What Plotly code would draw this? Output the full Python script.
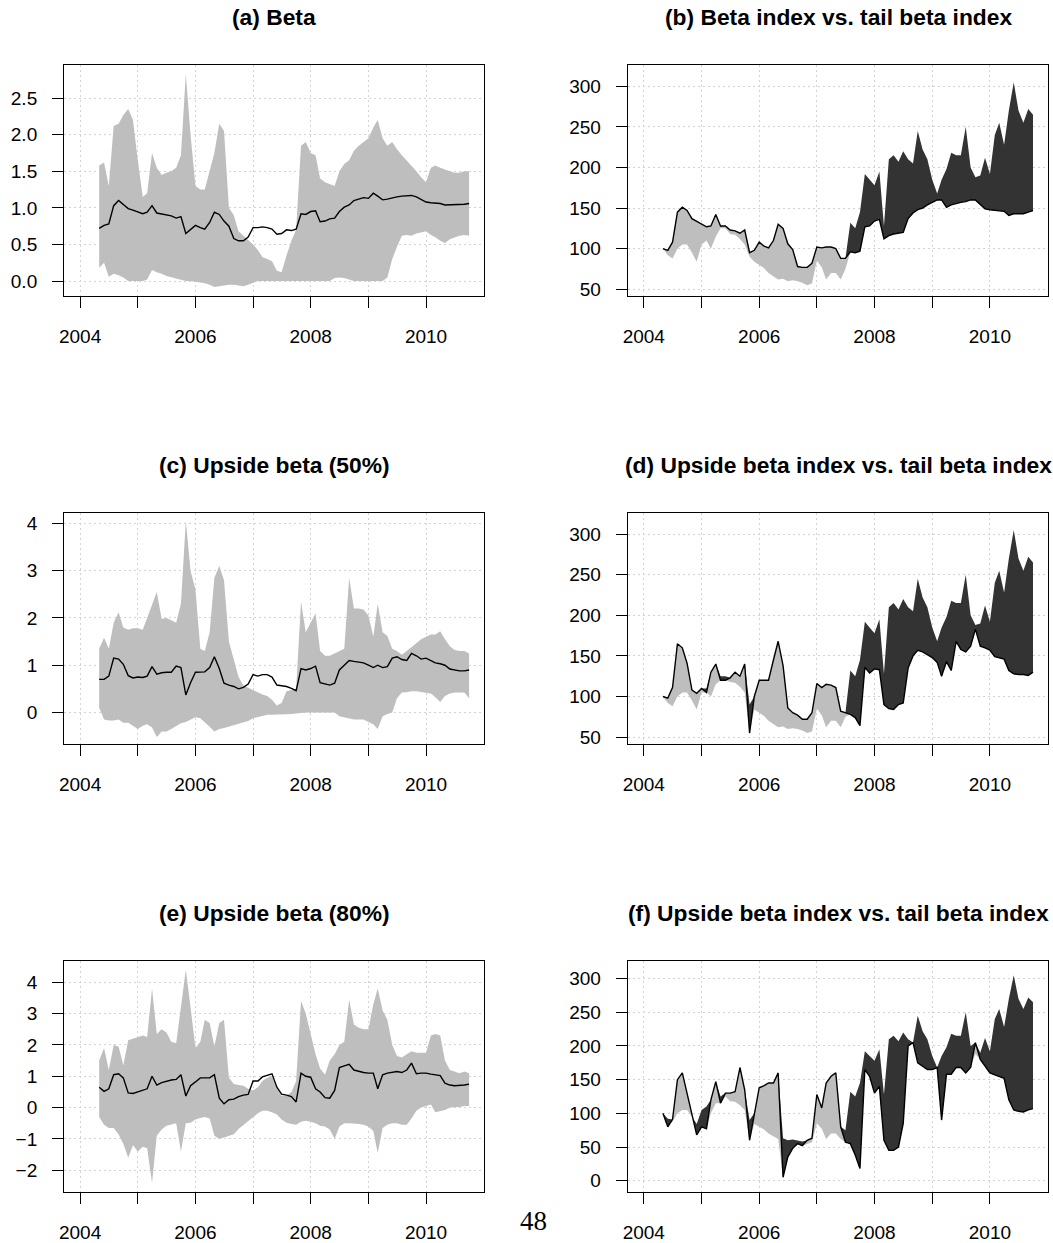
import numpy as np
import pandas as pd
import plotly.graph_objects as go

# ---------------- data (monthly observations, May 2004 - Oct 2010) ----------------
dates = pd.date_range("2004-05-01", "2010-10-01", freq="MS")

# (a) Beta with band
beta = [0.72, 0.76, 0.78, 1.03, 1.10, 1.05, 0.99, 0.97, 0.95, 0.92,
        0.94, 1.03, 0.93, 0.92, 0.91, 0.89, 0.86, 0.88, 0.65, 0.70,
        0.76, 0.73, 0.71, 0.80, 0.94, 0.91, 0.82, 0.75, 0.58, 0.55,
        0.55, 0.60, 0.73, 0.73, 0.74, 0.73, 0.71, 0.64, 0.65, 0.70,
        0.69, 0.71, 0.92, 0.91, 0.95, 0.96, 0.81, 0.82, 0.85, 0.86,
        0.95, 1.01, 1.04, 1.10, 1.12, 1.14, 1.13, 1.20, 1.16, 1.11,
        1.12, 1.14, 1.15, 1.16, 1.16, 1.17, 1.15, 1.11, 1.08, 1.07,
        1.07, 1.06, 1.04, 1.04, 1.04, 1.04, 1.05, 1.06]
beta_hi = [1.58, 1.62, 1.30, 2.12, 2.15, 2.27, 2.35, 2.20, 1.65, 1.15,
           1.20, 1.75, 1.55, 1.45, 1.48, 1.50, 1.55, 1.72, 2.83, 2.00,
           1.30, 1.25, 1.25, 1.50, 1.75, 2.15, 2.05, 1.00, 0.90, 0.68,
           0.62, 0.55, 0.50, 0.42, 0.33, 0.30, 0.27, 0.14, 0.12, 0.35,
           0.55, 0.70, 1.85, 1.90, 1.75, 1.72, 1.40, 1.35, 1.32, 1.30,
           1.50, 1.60, 1.65, 1.78, 1.85, 1.90, 1.95, 2.10, 2.20, 1.95,
           1.85, 1.90, 1.80, 1.72, 1.65, 1.58, 1.50, 1.42, 1.35, 1.55,
           1.58, 1.55, 1.52, 1.50, 1.48, 1.48, 1.50, 1.50]
beta_lo = [0.18, 0.25, 0.06, 0.10, 0.08, 0.05, 0.00, 0.00, 0.00, 0.00,
           0.02, 0.15, 0.12, 0.10, 0.07, 0.05, 0.04, 0.02, 0.00, 0.00,
           -0.01, -0.02, -0.03, -0.05, -0.08, -0.07, -0.06, -0.05, -0.05, -0.06,
           -0.07, -0.05, -0.02, 0.00, 0.00, 0.00, 0.00, 0.00, 0.00, 0.00,
           0.00, 0.00, -0.01, -0.01, -0.01, 0.00, 0.00, 0.00, 0.00, 0.04,
           0.05, 0.04, 0.02, 0.00, 0.00, 0.00, 0.00, 0.00, 0.00, 0.00,
           0.05, 0.30, 0.47, 0.62, 0.63, 0.62, 0.65, 0.67, 0.68, 0.63,
           0.60, 0.55, 0.52, 0.57, 0.60, 0.62, 0.63, 0.62]

# (c) Upside beta (50%)
up50 = [0.70, 0.70, 0.77, 1.15, 1.13, 1.02, 0.78, 0.73, 0.75, 0.74,
        0.77, 0.97, 0.81, 0.84, 0.85, 0.85, 0.98, 0.95, 0.37, 0.63,
        0.85, 0.85, 0.86, 0.95, 1.18, 0.93, 0.62, 0.58, 0.55, 0.50,
        0.53, 0.60, 0.80, 0.77, 0.80, 0.80, 0.75, 0.58, 0.57, 0.55,
        0.51, 0.46, 0.93, 0.90, 0.93, 0.98, 0.63, 0.60, 0.58, 0.62,
        0.90, 1.00, 1.10, 1.08, 1.07, 1.05, 1.00, 0.95, 1.00, 0.95,
        0.97, 1.15, 1.18, 1.12, 1.10, 1.25, 1.20, 1.13, 1.15, 1.10,
        1.05, 1.03, 1.00, 0.92, 0.90, 0.88, 0.88, 0.90]
up50_hi = [1.35, 1.58, 1.35, 1.90, 2.12, 1.80, 1.75, 1.78, 1.78, 1.75,
           2.00, 2.30, 2.55, 1.98, 2.00, 1.95, 1.90, 2.30, 4.05, 3.00,
           2.60, 1.35, 1.30, 1.70, 2.85, 3.10, 2.80, 1.50, 1.10, 0.75,
           0.57, 0.52, 0.47, 0.42, 0.38, 0.35, 0.27, 0.15, 0.20, 0.45,
           0.48, 0.50, 2.35, 1.70, 1.90, 2.10, 1.30, 1.20, 1.20, 1.25,
           1.30, 1.35, 2.85, 2.20, 2.20, 2.18, 2.05, 1.60, 2.30, 1.70,
           1.62, 1.35, 1.30, 1.22, 1.30, 1.38, 1.45, 1.55, 1.60, 1.65,
           1.65, 1.72, 1.55, 1.40, 1.32, 1.30, 1.30, 1.25]
up50_lo = [0.10, -0.15, -0.17, -0.17, -0.15, -0.22, -0.22, -0.28, -0.35, -0.28,
           -0.25, -0.32, -0.52, -0.40, -0.40, -0.35, -0.28, -0.23, -0.20, -0.15,
           -0.10, -0.12, -0.20, -0.30, -0.40, -0.35, -0.33, -0.30, -0.27, -0.25,
           -0.22, -0.18, -0.12, -0.10, -0.07, -0.05, -0.05, -0.05, -0.05, -0.04,
           -0.03, -0.02, 0.00, 0.00, 0.00, 0.00, 0.00, 0.00, 0.00, 0.00,
           -0.08, -0.10, -0.13, -0.15, -0.15, -0.15, -0.20, -0.25, -0.35, -0.08,
           -0.03, 0.00, 0.30, 0.42, 0.43, 0.45, 0.45, 0.43, 0.42, 0.40,
           0.32, 0.22, 0.35, 0.40, 0.42, 0.42, 0.42, 0.30]

# (e) Upside beta (80%)
up80 = [0.65, 0.52, 0.60, 1.05, 1.08, 0.95, 0.47, 0.45, 0.50, 0.55,
        0.60, 1.00, 0.72, 0.80, 0.85, 0.88, 0.90, 1.05, 0.37, 0.70,
        0.82, 0.95, 0.95, 0.95, 1.05, 0.30, 0.12, 0.25, 0.27, 0.35,
        0.40, 0.42, 0.85, 0.85, 0.98, 1.03, 1.08, 0.65, 0.43, 0.40,
        0.35, 0.18, 1.10, 1.00, 0.97, 0.60, 0.50, 0.32, 0.30, 0.55,
        1.28, 1.33, 1.38, 1.20, 1.15, 1.12, 1.10, 1.10, 0.60, 1.05,
        1.10, 1.12, 1.15, 1.12, 1.20, 1.42, 1.08, 1.10, 1.10, 1.07,
        1.05, 1.02, 0.78, 0.72, 0.70, 0.70, 0.72, 0.75]
up80_hi = [1.50, 1.90, 1.20, 2.00, 1.95, 1.35, 2.15, 2.20, 2.25, 2.30,
           2.25, 3.80, 2.35, 2.50, 2.40, 2.10, 2.05, 3.30, 4.40, 3.20,
           1.90, 2.10, 2.80, 2.70, 1.95, 2.70, 2.80, 0.95, 0.75, 0.72,
           0.70, 0.60, 0.55, 0.65, 0.85, 0.95, 1.00, 0.60, 0.38, 0.38,
           0.50, 0.85, 3.40, 3.00, 2.30, 1.70, 1.25, 1.05, 1.50, 1.70,
           2.00, 2.10, 3.45, 2.65, 2.55, 2.50, 2.50, 3.30, 3.80, 3.10,
           2.80, 2.00, 1.65, 1.60, 1.70, 1.80, 1.75, 1.75, 1.75, 2.30,
           2.35, 2.30, 1.50, 1.20, 1.15, 1.10, 1.15, 1.10]
up80_lo = [-0.30, -0.55, -0.65, -0.65, -0.85, -1.15, -1.60, -1.20, -1.40, -1.25,
           -1.30, -2.40, -0.90, -0.70, -0.58, -0.55, -0.50, -1.40, -0.50, -0.48,
           -0.38, -0.33, -0.30, -0.35, -0.90, -1.00, -0.95, -0.90, -0.85, -0.68,
           -0.55, -0.45, -0.30, -0.18, -0.10, -0.10, -0.15, -0.22, -0.38, -0.48,
           -0.52, -0.55, -0.45, -0.42, -0.45, -0.50, -0.58, -0.60, -0.70, -1.00,
           -0.60, -0.50, -0.50, -0.50, -0.52, -0.55, -0.60, -0.75, -1.45, -0.65,
           -0.55, -0.50, -0.50, -0.55, -0.55, -0.35, -0.10, 0.00, 0.05, 0.10,
           -0.15, -0.12, -0.08, 0.00, 0.00, 0.02, 0.05, 0.05]

# tail beta index (shared by panels b, d, f)
tail_index = [100, 92, 88, 100, 105, 105, 95, 84, 105, 110,
              100, 115, 125, 125, 118, 117, 112, 105, 90, 84,
              80, 76, 70, 66, 62, 63, 60, 61, 60, 58,
              55, 57, 85, 77, 62, 70, 70, 62, 75, 132,
              125, 145, 192, 185, 178, 195, 128, 210, 215, 207,
              220, 210, 205, 245, 222, 210, 185, 168, 185, 198,
              218, 215, 215, 250, 200, 188, 190, 212, 192, 240,
              255, 228, 270, 305, 270, 255, 272, 265]
# (b) beta index
beta_index = [100, 98, 108, 145, 151, 147, 137, 134, 130, 127,
              128, 142, 128, 128, 123, 122, 119, 123, 95, 98,
              108, 103, 101, 110, 130, 125, 106, 99, 78, 77,
              77, 82, 102, 101, 102, 102, 100, 88, 88, 96,
              95, 97, 127, 128, 134, 136, 112, 116, 118, 119,
              120, 137, 144, 148, 150, 154, 157, 160, 160, 151,
              154, 156, 157, 158, 160, 160, 155, 149, 148, 147,
              147, 146, 141, 143, 143, 143, 145, 147]
# (d) upside beta (50%) index
up50_index = [100, 98, 111, 165, 160, 141, 108, 104, 110, 105,
              130, 140, 120, 120, 123, 130, 125, 140, 55, 100,
              120, 120, 120, 145, 168, 138, 86, 80, 77, 72,
              72, 80, 116, 111, 115, 114, 111, 82, 80, 78,
              74, 64, 136, 129, 134, 133, 90, 85, 84, 90,
              92, 135, 150, 157, 155, 152, 148, 142, 125, 143,
              132, 168, 158, 155, 162, 183, 162, 160, 157, 149,
              148, 146, 132, 128, 127, 127, 126, 130]
# (f) upside beta (80%) index
up80_index = [100, 80, 91, 150, 160, 128, 95, 68, 80, 77,
              120, 147, 115, 130, 130, 132, 168, 135, 60, 100,
              138, 141, 145, 145, 160, 5, 35, 48, 55, 52,
              60, 63, 128, 108, 145, 155, 160, 80, 57, 55,
              38, 18, 165, 155, 130, 140, 60, 45, 45, 50,
              85, 200, 205, 175, 170, 165, 165, 168, 90, 158,
              158, 168, 168, 160, 168, 205, 180, 170, 160, 157,
              155, 152, 120, 105, 103, 102, 105, 107]

year_ticks = ["2004", "2005", "2006", "2007", "2008", "2009", "2010"]
year_labels = ["2004", "", "2006", "", "2008", "", "2010"]

# ---------------- styling / layout ----------------
GRAY = "#BEBEBE"
DARK = "#333333"
FONT = "Liberation Sans, Arial, Helvetica, sans-serif"
W, H = 1053, 1243
cols = [(59.3, 481.7), (625.7, 1048.3)]
rows = [(65.3, 297.7), (515.3, 747.7), (965.3, 1197.7)]
title_y = [17.5, 467.5, 917.5]

panels = [
    dict(kind="band", r=0, c=0, title="(a) Beta", line=beta, lo=beta_lo, hi=beta_hi,
         yr=[-0.208, 2.953], yt=[0, 0.5, 1, 1.5, 2, 2.5],
         ytx=["0.0", "0.5", "1.0", "1.5", "2.0", "2.5"]),
    dict(kind="index", r=0, c=1, title="(b) Beta index vs. tail beta index",
         line=beta_index, other=tail_index, yr=[41.4, 326.2],
         yt=[50, 100, 150, 200, 250, 300], ytx=["50", "100", "150", "200", "250", "300"]),
    dict(kind="band", r=1, c=0, title="(c) Upside beta (50%)", line=up50, lo=up50_lo, hi=up50_hi,
         yr=[-0.669, 4.225], yt=[0, 1, 2, 3, 4], ytx=["0", "1", "2", "3", "4"]),
    dict(kind="index", r=1, c=1, title="(d) Upside beta index vs. tail beta index",
         line=up50_index, other=tail_index, yr=[41.4, 326.2],
         yt=[50, 100, 150, 200, 250, 300], ytx=["50", "100", "150", "200", "250", "300"]),
    dict(kind="band", r=2, c=0, title="(e) Upside beta (80%)", line=up80, lo=up80_lo, hi=up80_hi,
         yr=[-2.69, 4.69], yt=[-2, -1, 0, 1, 2, 3, 4],
         ytx=["\u22122", "\u22121", "0", "1", "2", "3", "4"]),
    dict(kind="index", r=2, c=1, title="(f) Upside beta index vs. tail beta index",
         line=up80_index, other=tail_index, yr=[-16.7, 326.7],
         yt=[0, 50, 100, 150, 200, 250, 300], ytx=["0", "50", "100", "150", "200", "250", "300"]),
]

fig = go.Figure()
annotations = []
layout = {}

for i, p in enumerate(panels, start=1):
    xa = "x" if i == 1 else f"x{i}"
    ya = "y" if i == 1 else f"y{i}"
    x0, x1 = cols[p["c"]]
    y0, y1 = rows[p["r"]]
    common = dict(showlegend=False, hoverinfo="skip", xaxis=xa, yaxis=ya, mode="lines")
    line = np.array(p["line"], dtype=float)
    if p["kind"] == "band":
        fig.add_trace(go.Scatter(x=dates, y=p["lo"], line=dict(width=0), **common))
        fig.add_trace(go.Scatter(x=dates, y=p["hi"], line=dict(width=0), fill="tonexty",
                                 fillcolor=GRAY, **common))
    else:
        other = np.array(p["other"], dtype=float)
        upper = np.maximum(line, other)
        lower = np.minimum(line, other)
        fig.add_trace(go.Scatter(x=dates, y=line, line=dict(width=0), **common))
        fig.add_trace(go.Scatter(x=dates, y=upper, line=dict(width=0), fill="tonexty",
                                 fillcolor=DARK, **common))
        fig.add_trace(go.Scatter(x=dates, y=line, line=dict(width=0), **common))
        fig.add_trace(go.Scatter(x=dates, y=lower, line=dict(width=0), fill="tonexty",
                                 fillcolor=GRAY, **common))
    fig.add_trace(go.Scatter(x=dates, y=line, line=dict(color="black", width=1.4), **common))

    axis_common = dict(showline=True, linecolor="black", linewidth=1, mirror=True,
                       ticks="outside", ticklen=11, tickwidth=1, tickcolor="black",
                       showgrid=True, gridcolor="#D3D3D3", gridwidth=1, griddash="2px,3px",
                       zeroline=False, tickfont=dict(family=FONT, size=19, color="black"))
    layout["xaxis" if i == 1 else f"xaxis{i}"] = dict(
        domain=[x0 / W, x1 / W], anchor=ya, range=["2003-09-21 06:00", "2011-01-06"],
        tickmode="array", tickvals=[f"{t}-01-01" for t in year_ticks], ticktext=year_labels,
        ticklabelstandoff=12, **axis_common)
    layout["yaxis" if i == 1 else f"yaxis{i}"] = dict(
        domain=[1 - y1 / H, 1 - y0 / H], anchor=xa, range=p["yr"],
        tickmode="array", tickvals=p["yt"], ticktext=p["ytx"],
        ticklabelstandoff=11, **axis_common)
    annotations.append(dict(text=f"<b>{p['title']}</b>", x=(x0 + x1) / 2 / W, y=1 - title_y[p["r"]] / H,
                            xref="paper", yref="paper", xanchor="center", yanchor="middle",
                            showarrow=False, font=dict(family=FONT, size=22.8, color="black")))

# page number of the source document (kept fully inside the picture)
annotations.append(dict(text="48", x=531 / W, y=0, xref="paper", yref="paper",
                        xanchor="center", yanchor="bottom", showarrow=False, borderpad=0,
                        font=dict(family="Liberation Serif, Times New Roman, serif", size=27,
                                  color="black")))

fig.update_layout(width=W, height=H, margin=dict(l=0, r=0, t=0, b=0),
                  paper_bgcolor="white", plot_bgcolor="white",
                  annotations=annotations, **layout)

fig.write_html("out.html")
